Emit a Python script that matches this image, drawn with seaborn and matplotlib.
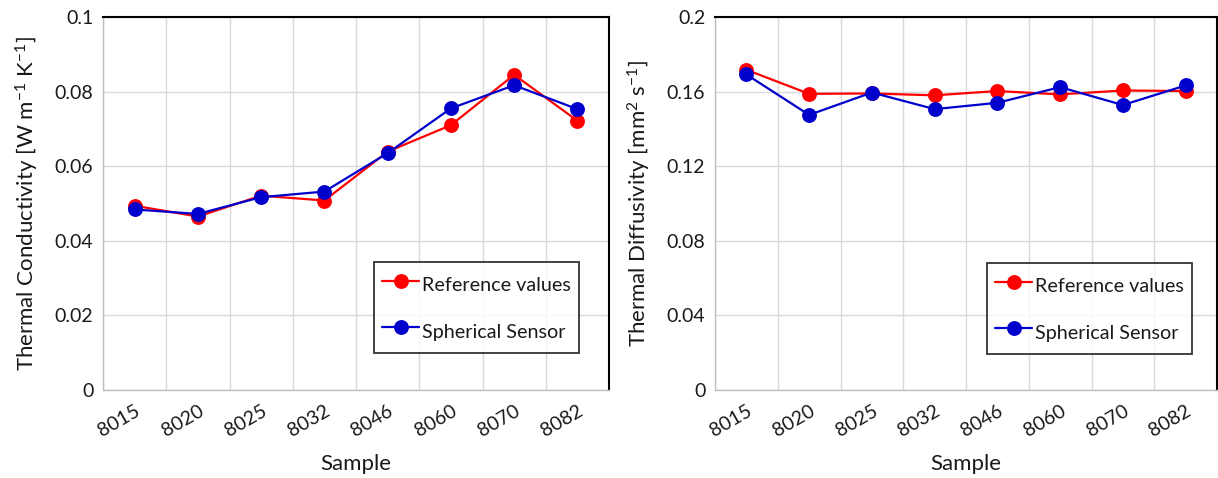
import numpy as np
import pandas as pd
import matplotlib
matplotlib.use("Agg")
import matplotlib.pyplot as plt
import seaborn as sns

samples = ["8015", "8020", "8025", "8032", "8046", "8060", "8070", "8082"]
series_names = ["Reference values", "Spherical Sensor"]
cond_ref = [0.0494, 0.0465, 0.0521, 0.0508, 0.0639, 0.0710, 0.0845, 0.0722]
cond_sph = [0.0484, 0.0472, 0.0517, 0.0532, 0.0635, 0.0755, 0.0817, 0.0753]
diff_ref = [0.1717, 0.1588, 0.1590, 0.1580, 0.1603, 0.1585, 0.1606, 0.1603]
diff_sph = [0.1692, 0.1475, 0.1595, 0.1506, 0.1540, 0.1624, 0.1528, 0.1633]
cond_ticks = [0, 0.02, 0.04, 0.06, 0.08, 0.1]
cond_ticklabels = ["0", "0.02", "0.04", "0.06", "0.08", "0.1"]
diff_ticks = [0, 0.04, 0.08, 0.12, 0.16, 0.2]
diff_ticklabels = ["0", "0.04", "0.08", "0.12", "0.16", "0.2"]

sns.set_theme(style="white")
plt.rcParams['font.family'] = ['Lato', 'DejaVu Sans']
plt.rcParams['mathtext.fontset'] = 'custom'
plt.rcParams['mathtext.rm'] = 'Lato'
plt.rcParams['mathtext.it'] = 'Lato'

palette = {"Reference values": "#ff0000", "Spherical Sensor": "#0000cc"}
TXT = "#1a1a1a"

def make_df(a, b):
    return pd.DataFrame({
        "Sample": samples * 2,
        "Value": list(a) + list(b),
        "Series": [series_names[0]] * len(samples) + [series_names[1]] * len(samples),
    })

fig = plt.figure(figsize=(12.18, 4.78), dpi=100)
ax1 = fig.add_axes([103/1218, 1-390/478, (609-103)/1218, (390-17)/478])
ax2 = fig.add_axes([715/1218, 1-390/478, (1217-715)/1218, (390-17)/478])

def draw(ax, df, ticks, ticklabels, ylabel, ymax, legend_pos):
    sns.pointplot(data=df, x="Sample", y="Value", hue="Series", palette=palette,
                  markers="o", linestyles="-", markersize=9.5, linewidth=1.6,
                  ax=ax, order=samples, hue_order=series_names, errorbar=None)
    ax.set_xlim(-0.5, len(samples) - 0.5)
    ax.set_ylim(0, ymax)
    ax.set_yticks(ticks)
    ax.set_yticklabels(ticklabels, fontsize=14, color=TXT)
    ax.set_xticks(range(len(samples)))
    ax.set_xticklabels(samples, rotation=30, ha="right", rotation_mode="anchor",
                       fontsize=14, color=TXT)
    ax.set_xticks(np.arange(-0.5, len(samples), 1.0), minor=True)
    ax.grid(True, which="minor", axis="x", color="#d9d9d9", linewidth=1.0)
    ax.grid(True, which="major", axis="y", color="#d9d9d9", linewidth=1.0)
    ax.grid(False, which="major", axis="x")
    ax.tick_params(axis="x", which="both", length=0, pad=9)
    ax.tick_params(axis="y", length=0, pad=7)
    ax.set_axisbelow(True)
    ax.set_xlabel("Sample", fontsize=16, color=TXT, labelpad=10)
    ax.set_ylabel(ylabel, fontsize=16, color=TXT, labelpad=10)
    for s in ["left", "bottom"]:
        ax.spines[s].set_color("#bfbfbf")
        ax.spines[s].set_linewidth(1.0)
    for s in ["top", "right"]:
        ax.spines[s].set_color("#000000")
        ax.spines[s].set_linewidth(1.5)
    handles, labels = ax.get_legend_handles_labels()
    leg = ax.legend(handles, labels, loc="lower left", bbox_to_anchor=legend_pos,
                    fontsize=14.2, frameon=True, fancybox=False, edgecolor="black",
                    borderpad=0.4, labelspacing=0.96, handlelength=1.9,
                    handleheight=1.8, handletextpad=0.15, borderaxespad=0)
    leg.get_frame().set_linewidth(1.3)
    for t in leg.get_texts():
        t.set_color(TXT)

draw(ax1, make_df(cond_ref, cond_sph), cond_ticks, cond_ticklabels,
     r"Thermal Conductivity [W m$^{-1}$ K$^{-1}$]", 0.1,
     ((374-103)/506, (390-353)/373))
draw(ax2, make_df(diff_ref, diff_sph), diff_ticks, diff_ticklabels,
     r"Thermal Diffusivity [mm$^{2}$ s$^{-1}$]", 0.2,
     ((987-715)/502, (390-354)/373))

fig.savefig("out.png", dpi=100)
